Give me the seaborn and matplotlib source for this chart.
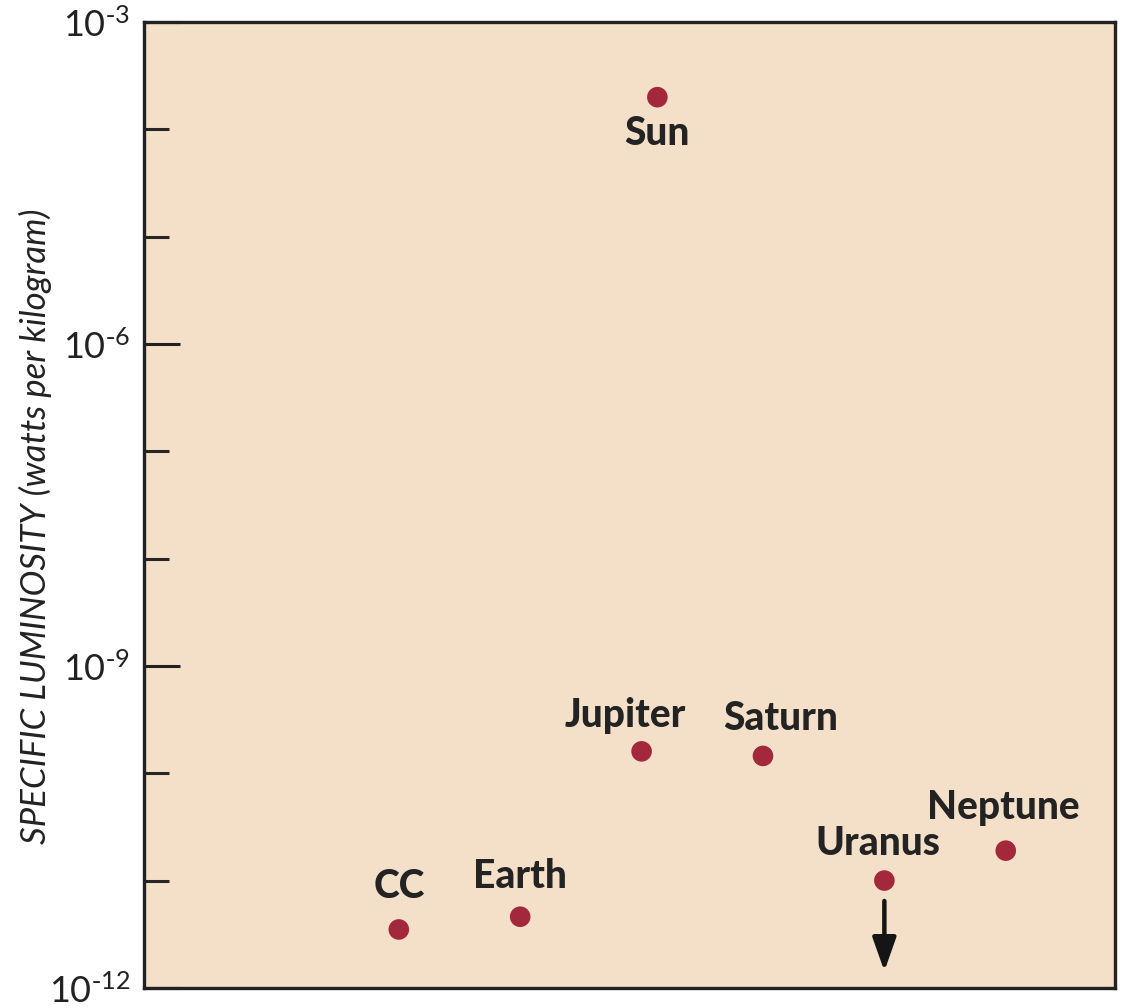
import matplotlib
matplotlib.use("Agg")
import matplotlib.pyplot as plt
import seaborn as sns
import pandas as pd
from matplotlib.ticker import FixedLocator, FixedFormatter, NullLocator, NullFormatter

# Bodies and their specific luminosity (W/kg)
bodies = ["CC", "Earth", "Jupiter", "Saturn", "Uranus", "Neptune", "Sun"]
x_pos = [2.0, 3.0, 4.0, 5.0, 6.0, 7.0, 4.13]
luminosity = [3.5e-12, 4.6e-12, 1.6e-10, 1.45e-10, 1.0e-11, 1.9e-11, 2.0e-4]
upper_limit = ["Uranus"]

major_ticks = [1e-12, 1e-9, 1e-6, 1e-3]
major_labels = [r"$\mathregular{10^{\text{-}12}}$", r"$\mathregular{10^{\text{-}9}}$",
                r"$\mathregular{10^{\text{-}6}}$", r"$\mathregular{10^{\text{-}3}}$"]
minor_ticks = [1e-11, 1e-10, 1e-8, 1e-7, 1e-5, 1e-4]

df = pd.DataFrame({"body": bodies, "x": x_pos, "L": luminosity})

sns.set_theme(style="ticks")
plt.rcParams["font.family"] = ["Lato", "DejaVu Sans"]
plt.rcParams["mathtext.default"] = "regular"

fig = plt.figure(figsize=(11.24, 10.08), dpi=100)
ax = fig.add_axes([0.128, 0.020, 0.864, 0.958])
ax.set_facecolor("#f4e0c9")

sns.scatterplot(data=df, x="x", y="L", ax=ax, s=220, color="#a3283c",
                edgecolor="none", legend=False, zorder=3)

ax.set_yscale("log")
ax.set_ylim(1e-12, 1e-3)
ax.set_xlim(-0.1, 7.9)

# label offsets (points) relative to each marker
offsets = {"CC": (0, 31), "Earth": (0, 29), "Jupiter": (-12, 26),
           "Saturn": (13, 27), "Uranus": (-5, 27), "Neptune": (-2, 31),
           "Sun": (0, -26)}
for b, xv, yv in zip(bodies, x_pos, luminosity):
    dx, dy = offsets[b]
    ax.annotate(b, (xv, yv), xytext=(dx, dy), textcoords="offset points",
                ha="center", va="center", fontsize=28, fontweight="black",
                color="#232323")

# downward arrow marking an upper limit
for b in upper_limit:
    i = bodies.index(b)
    ax.annotate("", xy=(x_pos[i], luminosity[i] / 7.0),
                xytext=(x_pos[i], luminosity[i] / 1.55),
                arrowprops=dict(arrowstyle="-|>,head_length=1.7,head_width=0.6",
                                color="#151515", lw=3.2, shrinkA=0, shrinkB=0))

ax.yaxis.set_major_locator(FixedLocator(major_ticks))
ax.yaxis.set_major_formatter(FixedFormatter(major_labels))
ax.yaxis.set_minor_locator(FixedLocator(minor_ticks))
ax.yaxis.set_minor_formatter(NullFormatter())
ax.xaxis.set_major_locator(NullLocator())
ax.xaxis.set_minor_locator(NullLocator())
ax.tick_params(axis="y", which="major", direction="in", length=26, width=2.2,
               labelsize=26, pad=10, colors="#222222")
ax.tick_params(axis="y", which="minor", direction="in", length=18, width=2.2)
ax.set_xlabel("")
ax.set_ylabel("SPECIFIC LUMINOSITY (watts per kilogram)", fontsize=25,
              fontstyle="italic", color="#222222")
ax.yaxis.set_label_coords(-0.095, 0.478)

for sp in ax.spines.values():
    sp.set_linewidth(2.4)
    sp.set_color("#222222")

fig.savefig("out.png", dpi=100, facecolor="white")
